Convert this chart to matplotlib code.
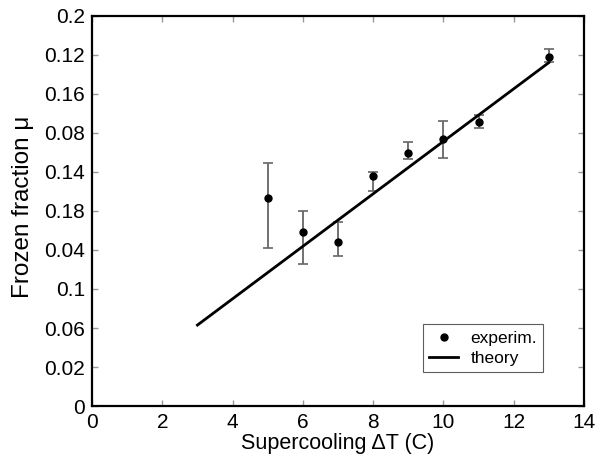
import numpy as np
import matplotlib.pyplot as plt

plt.rcParams['font.family'] = ['Liberation Sans', 'DejaVu Sans']

# experimental data (supercooling, frozen fraction, error bars)
dT = [5, 6, 7, 8, 9, 10, 11, 13]
mu = [0.1065, 0.0891, 0.0841, 0.1181, 0.1299, 0.1368, 0.1455, 0.1791]
mu_hi = [0.1245, 0.1002, 0.0945, 0.1202, 0.1355, 0.1463, 0.1491, 0.1829]
mu_lo = [0.0812, 0.0728, 0.0769, 0.1104, 0.1265, 0.1273, 0.1424, 0.1766]

# theory line
theory_x = [3, 13]
theory_y = [0.0415, 0.1761]

# y tick values and labels (as printed on the original)
ytick_vals = [0, 0.02, 0.04, 0.06, 0.08, 0.1, 0.12, 0.14, 0.16, 0.18, 0.2]
ytick_labels = ["0", "0.02", "0.06", "0.1", "0.04", "0.18", "0.14", "0.08", "0.16", "0.12", "0.2"]
xtick_vals = [0, 2, 4, 6, 8, 10, 12, 14]

fig = plt.figure(figsize=(5.97, 4.62), dpi=100)
ax = fig.add_axes([0.1541, 0.1212, 0.8241, 0.8442])

err = [np.array(mu) - np.array(mu_lo), np.array(mu_hi) - np.array(mu)]
ax.errorbar(dT, mu, yerr=err, fmt='none', ecolor='#666666', elinewidth=1.3,
            capsize=3.5, capthick=1.2)
ax.plot(dT, mu, 'o', color='black', markersize=5, label='experim.')
ax.plot(theory_x, theory_y, '-', color='black', linewidth=2, label='theory')

ax.set_xlim(0, 14)
ax.set_ylim(0, 0.2)
ax.set_xticks(xtick_vals)
ax.set_xticklabels([str(v) for v in xtick_vals])
ax.set_yticks(ytick_vals)
ax.set_yticklabels(ytick_labels)
ax.tick_params(direction='in', top=True, right=True, labelsize=15,
               length=4, width=1, color='#999999')
ax.tick_params(axis='y', pad=5)
ax.tick_params(axis='x', pad=5)
for s in ax.spines.values():
    s.set_linewidth(1.6)

ax.set_xlabel('Supercooling \u0394T (C)', fontsize=15.5, labelpad=1)
ax.set_ylabel('Frozen fraction \u03bc', fontsize=17.5, labelpad=0)
ax.yaxis.set_label_coords(-0.118, 0.51)

leg = ax.legend(loc='lower right', bbox_to_anchor=(0.917, 0.087), borderaxespad=0,
                fontsize=12.5, frameon=True, fancybox=False, edgecolor='#333333',
                handlelength=1.7, borderpad=0.35, labelspacing=0.3,
                handletextpad=0.7)
leg.get_frame().set_linewidth(0.8)

fig.savefig('out.png', dpi=100)
